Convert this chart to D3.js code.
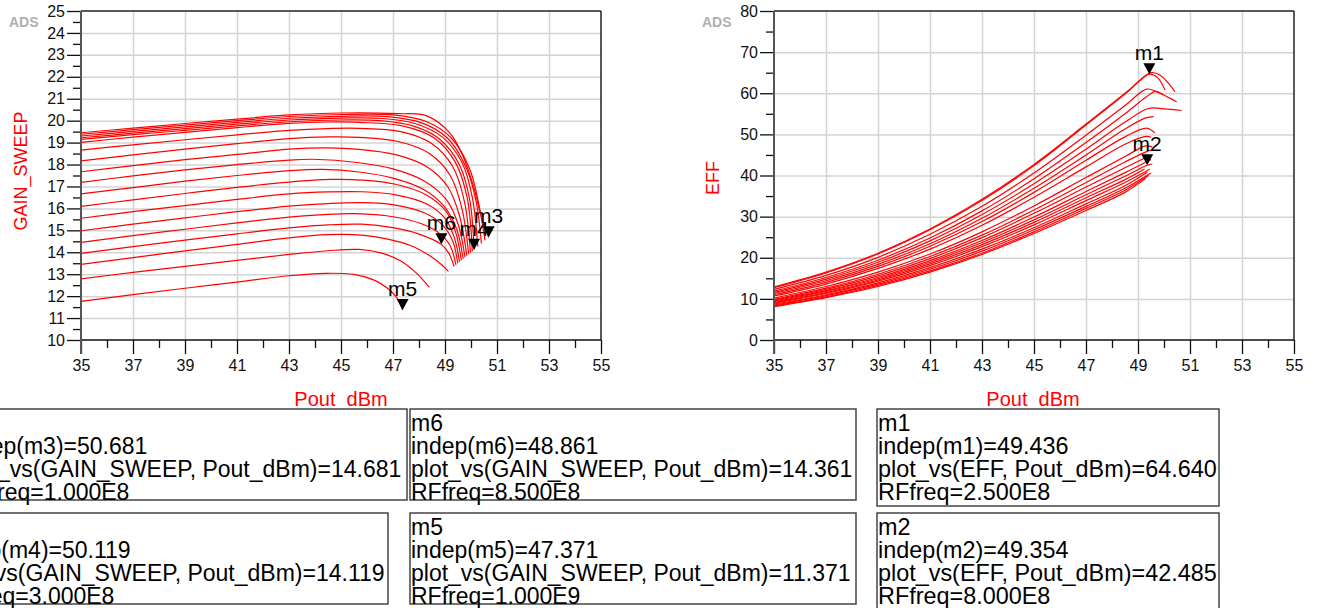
<!DOCTYPE html>
<html>
<head>
<meta charset="utf-8">
<script src="https://cdn.jsdelivr.net/npm/d3@7"></script>
<style>
body{margin:0;background:#fff;overflow:hidden}
svg text{font-family:"Liberation Sans",Arial,sans-serif}
</style>
</head>
<body>
<div id="chart"></div>
<script>
// tick values
var xMajor = [35,37,39,41,43,45,47,49,51,53,55]
var xMinor = [36,38,40,42,44,46,48,50,52,54]
var gainMajor = [10,11,12,13,14,15,16,17,18,19,20,21,22,23,24,25]
var gainMinor = [10.5,11.5,12.5,13.5,14.5,15.5,16.5,17.5,18.5,19.5,20.5,21.5,22.5,23.5,24.5]
var effMajor = [0,10,20,30,40,50,60,70,80]
var effMinor = [5,15,25,35,45,55,65,75]

// GAIN_SWEEP vs Pout_dBm, one curve per RFfreq (bottom to top)
var gainCurves = [
  [[35,11.76],[37,12.07],[39,12.36],[41,12.64],[43,12.93],[44.4,13.04],[45.5,12.99],[46.3,12.72],[46.8,12.35],[47.15,11.92],[47.37,11.37]],
  [[35,12.79],[37,13.08],[39,13.36],[41,13.63],[43,13.9],[44.5,14.07],[45.7,14.13],[46.6,13.95],[47.3,13.6],[47.9,13.05],[48.4,12.4]],
  [[35,13.45],[37,13.76],[39,14.06],[41,14.36],[43,14.66],[44.5,14.8],[45.8,14.78],[46.8,14.6],[47.7,14.3],[48.4,13.85],[48.85,13.45],[49.13,13.13]],
  [[35,13.95],[37,14.26],[39,14.55],[41,14.84],[43,15.11],[44.5,15.25],[45.8,15.28],[47,15.12],[48,14.83],[48.86,14.36],[49.15,13.95],[49.35,13.35]],
  [[35,14.45],[37,14.76],[39,15.05],[41,15.34],[43,15.6],[44.5,15.73],[45.8,15.75],[47,15.62],[48.1,15.3],[48.8,14.85],[49.2,14.3],[49.42,13.42]],
  [[35,14.98],[37,15.28],[39,15.57],[41,15.85],[43,16.1],[44.5,16.22],[45.8,16.26],[47.1,16.15],[48.2,15.8],[48.9,15.25],[49.3,14.5],[49.49,13.49]],
  [[35,15.55],[37,15.85],[39,16.13],[41,16.41],[43,16.66],[44.5,16.75],[45.8,16.76],[47.1,16.62],[48.3,16.2],[49.0,15.55],[49.35,14.7],[49.56,13.56]],
  [[35,16.09],[37,16.39],[39,16.68],[41,16.96],[43,17.2],[44.6,17.32],[45.8,17.29],[47.1,17.1],[48.3,16.6],[49.05,15.85],[49.4,14.95],[49.63,13.63]],
  [[35,16.66],[37,16.95],[39,17.24],[41,17.5],[43,17.72],[44.3,17.78],[45.7,17.66],[47.0,17.38],[48.2,16.85],[49.0,16.05],[49.45,15.05],[49.7,13.7]],
  [[35,17.19],[37,17.48],[39,17.76],[41,18.0],[43,18.2],[43.9,18.24],[45.7,18.08],[47.0,17.8],[48.2,17.25],[49.05,16.4],[49.5,15.3],[49.77,13.77]],
  [[35,17.67],[37,17.95],[39,18.22],[41,18.46],[43,18.7],[44.5,18.76],[45.7,18.69],[47.1,18.45],[48.3,17.9],[49.1,17.0],[49.55,15.7],[49.84,13.84]],
  [[35,18.17],[37,18.44],[39,18.7],[41,18.95],[43,19.18],[44.5,19.26],[45.7,19.24],[47.2,19.05],[48.4,18.5],[49.2,17.5],[49.65,16.0],[49.91,13.91]],
  [[35,18.66],[37,18.9],[39,19.13],[41,19.35],[43,19.56],[44.5,19.64],[45.7,19.65],[47.3,19.5],[48.5,18.95],[49.3,17.9],[49.75,16.3],[49.98,13.98]],
  [[35,19.01],[37,19.25],[39,19.47],[41,19.68],[43,19.88],[44.5,19.94],[45.7,19.92],[47.4,19.75],[48.6,19.2],[49.4,18.1],[49.85,16.5],[50.05,14.05]],
  [[35,19.15],[37,19.36],[39,19.56],[41,19.76],[43,19.95],[45,20.03],[46.5,20.0],[47.8,19.75],[48.8,19.15],[49.55,18.0],[49.95,16.4],[50.12,14.12]],
  [[35,19.22],[37,19.43],[39,19.64],[41,19.84],[43,20.03],[45,20.12],[46.6,20.1],[47.9,19.85],[48.9,19.25],[49.65,18.1],[50.05,16.5],[50.26,14.26]],
  [[35,19.30],[37,19.51],[39,19.72],[41,19.92],[43,20.11],[45,20.2],[46.8,20.18],[48.1,19.9],[49.1,19.2],[49.8,17.9],[50.2,16.3],[50.40,14.40]],
  [[35,19.38],[37,19.59],[39,19.8],[41,20.0],[43,20.19],[45,20.28],[47,20.26],[48.3,19.95],[49.25,19.2],[49.95,17.8],[50.3,16.2],[50.54,14.54]],
  [[35,19.45],[37,19.66],[39,19.87],[41,20.07],[43,20.26],[45,20.35],[47.2,20.32],[48.3,20.22],[49.2,19.42],[49.7,18.36],[50.1,16.99],[50.4,15.6],[50.68,14.68]]
]

// EFF vs Pout_dBm
var effCurves = [
  [[35,12.7],[37,16.3],[39,20.9],[41,26.8],[43,33.9],[45,42.4],[47,52.3],[48.5,59.8],[49.5,65.0],[49.85,64.4],[50.23,62.0],[50.42,60.4]],
  [[35,12.9],[37,16.5],[39,21.1],[41,27.0],[43,34.2],[45,42.7],[47,52.5],[48.5,60.0],[49.1,63.2],[49.436,64.64],[49.75,63.8],[50.04,60.8]],
  [[35,12.3],[37,15.7],[39,20.1],[41,25.7],[43,32.5],[45,40.6],[47,49.8],[48.5,57.0],[49.33,61.0],[49.72,60.4],[50.1,59.2],[50.49,57.95]],
  [[35,11.9],[37,15.2],[39,19.4],[41,24.8],[43,31.4],[45,39.2],[47,48.0],[48.5,55.0],[49.3,59.0],[49.65,60.4],[49.97,59.6]],
  [[35,11.6],[37,14.8],[39,18.9],[41,24.1],[43,30.5],[45,38.0],[47,46.4],[48.5,53.0],[49.4,56.3],[50.0,56.2],[50.68,55.8]],
  [[35,11.3],[37,14.4],[39,18.4],[41,23.4],[43,29.6],[45,36.9],[47,45.0],[48.5,51.3],[49.3,54.0],[49.6,54.3]],
  [[35,11.0],[37,14.0],[39,17.9],[41,22.8],[43,28.8],[45,35.9],[47,43.7],[48.5,49.4],[49.33,51.5],[49.65,50.3]],
  [[35,10.7],[37,13.6],[39,17.4],[41,22.1],[43,27.9],[45,34.7],[47,42.1],[48.5,47.6],[49.3,49.5],[49.5,49.3]],
  [[35,10.2],[37,13.0],[39,16.5],[41,20.9],[43,26.3],[45,32.6],[47,39.5],[48.5,44.6],[49.3,47.2],[49.55,46.9]],
  [[35,9.9],[37,12.6],[39,16.0],[41,20.3],[43,25.5],[45,31.6],[47,38.3],[48.5,43.3],[49.4,46.0],[49.6,46.3]],
  [[35,9.7],[37,12.3],[39,15.6],[41,19.8],[43,24.9],[45,30.8],[47,37.2],[48.5,41.9],[49.45,44.8]],
  [[35,9.5],[37,12.0],[39,15.2],[41,19.3],[43,24.2],[45,29.9],[47,36.1],[48.5,40.7],[49.5,43.9]],
  [[35,9.3],[37,11.8],[39,14.9],[41,18.9],[43,23.7],[45,29.2],[47,35.3],[48.5,39.8],[49.354,42.485],[49.55,42.8]],
  [[35,9.1],[37,11.5],[39,14.6],[41,18.5],[43,23.2],[45,28.6],[47,34.6],[48.5,39.0],[49.25,41.6]],
  [[35,8.9],[37,11.3],[39,14.3],[41,18.1],[43,22.7],[45,28.0],[47,33.9],[48.5,38.3],[49.45,41.5]],
  [[35,8.7],[37,11.0],[39,13.9],[41,17.6],[43,22.1],[45,27.3],[47,33.1],[48.5,37.5],[49.35,40.8]],
  [[35,8.5],[37,10.8],[39,13.6],[41,17.2],[43,21.6],[45,26.8],[47,32.5],[48.5,36.9],[49.5,40.6]],
  [[35,8.3],[37,10.5],[39,13.3],[41,16.8],[43,21.1],[45,26.3],[47,32.0],[48.5,36.4],[49.4,40.0]],
  [[35,8.1],[37,10.3],[39,13.0],[41,16.5],[43,20.8],[45,25.9],[47,31.5],[48.5,35.9],[49.3,39.3]]
]

// markers
var gainMarks = [['m3',50.681,14.681],['m4',50.119,14.119],['m6',48.861,14.361],['m5',47.371,11.371]]
var effMarks = [['m1',49.436,64.640],['m2',49.354,42.485]]

// readout boxes
var boxA = ['m3','indep(m3)=50.681','plot_vs(GAIN_SWEEP, Pout_dBm)=14.681','RFfreq=1.000E8']
var boxB = ['m4','indep(m4)=50.119','plot_vs(GAIN_SWEEP, Pout_dBm)=14.119','RFfreq=3.000E8']
var boxC = ['m6','indep(m6)=48.861','plot_vs(GAIN_SWEEP, Pout_dBm)=14.361','RFfreq=8.500E8']
var boxD = ['m5','indep(m5)=47.371','plot_vs(GAIN_SWEEP, Pout_dBm)=11.371','RFfreq=1.000E9']
var boxE = ['m1','indep(m1)=49.436','plot_vs(EFF, Pout_dBm)=64.640','RFfreq=2.500E8']
var boxF = ['m2','indep(m2)=49.354','plot_vs(EFF, Pout_dBm)=42.485','RFfreq=8.000E8']

var svg = d3.select('#chart').append('svg').attr('width',1317).attr('height',608)
svg.append('rect').attr('width',1317).attr('height',608).attr('fill','#fff')

var plotTop = 11, plotBottom = 340, pw = 520

function plot(id, left, yDomain, yMajor, yMinor, curves, marks, yLabel, yLabelX, yLabelY, xLabelX){
  var x = d3.scaleLinear().domain([35,55]).range([left,left+pw])
  var y = d3.scaleLinear().domain(yDomain).range([plotBottom,plotTop])
  var g = svg.append('g')

  // grid
  g.append('g').attr('transform',`translate(0,${plotBottom})`)
    .call(d3.axisBottom(x).tickValues(xMajor.slice(1,-1)).tickSize(-(plotBottom-plotTop)).tickFormat(''))
    .call(s=>s.select('.domain').remove())
    .selectAll('line').attr('stroke','#d4d4d4').attr('stroke-width',1.5)
  g.append('g').attr('transform',`translate(${left},0)`)
    .call(d3.axisLeft(y).tickValues(yMajor.slice(1,-1)).tickSize(-pw).tickFormat(''))
    .call(s=>s.select('.domain').remove())
    .selectAll('line').attr('stroke','#d4d4d4').attr('stroke-width',1.5)

  // frame
  g.append('line').attr('x1',left).attr('x2',left+pw).attr('y1',plotTop).attr('y2',plotTop).attr('stroke','#222').attr('stroke-width',1.5)
  g.append('line').attr('x1',left+pw).attr('x2',left+pw).attr('y1',plotTop).attr('y2',plotBottom).attr('stroke','#222').attr('stroke-width',1.5)

  // curves
  g.append('clipPath').attr('id',id).append('rect')
    .attr('x',left).attr('y',plotTop).attr('width',pw).attr('height',plotBottom-plotTop)
  var line = d3.line().x(d=>x(d[0])).y(d=>y(d[1])).curve(d3.curveCatmullRom.alpha(0.5))
  g.append('g').attr('clip-path',`url(#${id})`)
    .selectAll('path').data(curves).enter().append('path')
    .attr('d',line).attr('fill','none').attr('stroke','#ff0000').attr('stroke-width',1.2)

  // axes
  var tickFont = s=>s.selectAll('text').attr('fill','#111')
    .style('font-size','16px').style('font-family','"Liberation Sans",Arial,sans-serif')
  g.append('g').attr('transform',`translate(0,${plotBottom})`)
    .call(d3.axisBottom(x).tickValues(xMinor).tickSize(8).tickFormat(''))
    .call(s=>s.select('.domain').remove())
    .selectAll('line').attr('stroke','#111').attr('stroke-width',1.3)
  g.append('g').attr('transform',`translate(0,${plotBottom})`)
    .call(d3.axisBottom(x).tickValues(xMajor).tickSize(14).tickPadding(6).tickFormat(d3.format('d')))
    .call(s=>s.select('.domain').remove())
    .call(tickFont)
    .selectAll('line').attr('stroke','#111').attr('stroke-width',1.3)
  g.append('g').attr('transform',`translate(${left},0)`)
    .call(d3.axisLeft(y).tickValues(yMinor).tickSize(8).tickFormat(''))
    .call(s=>s.select('.domain').remove())
    .selectAll('line').attr('stroke','#111').attr('stroke-width',1.3)
  g.append('g').attr('transform',`translate(${left},0)`)
    .call(d3.axisLeft(y).tickValues(yMajor).tickSize(14).tickPadding(2).tickFormat(d3.format('d')))
    .call(s=>s.select('.domain').remove())
    .call(tickFont)
    .selectAll('line').attr('stroke','#111').attr('stroke-width',1.3)
  g.append('line').attr('x1',left).attr('x2',left+pw).attr('y1',plotBottom).attr('y2',plotBottom).attr('stroke','#111').attr('stroke-width',1.5)
  g.append('line').attr('x1',left).attr('x2',left).attr('y1',plotTop).attr('y2',plotBottom+14).attr('stroke','#555').attr('stroke-width',2)

  // markers
  var mk = g.append('g').selectAll('g').data(marks).enter().append('g')
  mk.append('path').attr('fill','#000')
    .attr('d',d=>`M${x(d[1])-6},${y(d[2])-11}L${x(d[1])+6},${y(d[2])-11}L${x(d[1])},${y(d[2])}Z`)
  mk.append('text').attr('x',d=>x(d[1])).attr('y',d=>y(d[2])-14)
    .attr('text-anchor','middle').style('font-size','21px').attr('fill','#000').text(d=>d[0])

  // labels
  g.append('text').attr('x',left-72).attr('y',27).style('font-size','14px').attr('font-weight','bold')
    .attr('fill','#b0b0b0').text('ADS')
  g.append('text').attr('transform',`translate(${yLabelX},${yLabelY}) rotate(-90)`)
    .attr('text-anchor','middle').attr('dy','0.35em').style('font-size','18px').attr('fill','#ff0000').text(yLabel)
  g.append('text').attr('x',xLabelX).attr('y',406).attr('text-anchor','middle')
    .style('font-size','20px').attr('fill','#ff0000').text('Pout_dBm')
}

plot('clipGain',81,[10,25],gainMajor,gainMinor,gainCurves,gainMarks,'GAIN_SWEEP',21,171,341)
plot('clipEff',774,[0,80],effMajor,effMinor,effCurves,effMarks,'EFF',713,178,1033)

// readout boxes
function box(lines,x0,x1,y0,y1,tx,fs){
  var b = svg.append('g')
  b.append('rect').attr('x',x0).attr('y',y0).attr('width',x1-x0).attr('height',y1-y0)
    .attr('fill','#fff').attr('stroke','#444').attr('stroke-width',1.5)
  b.selectAll('text').data(lines).enter().append('text')
    .attr('x',tx).attr('y',(d,i)=>y0+22+i*23).style('font-size',fs+'px').attr('fill','#000').text(d=>d)
}
box(boxA,-42,407,409,500,-40,23)
box(boxB,-58,388,513,604,-55,23)
box(boxC,410,856,409,500,411,23)
box(boxD,410,856,513,604,411,23)
box(boxE,877,1219,409,506,878,23.4)
box(boxF,877,1219,513,630,878,23.4)
</script>
</body>
</html>
